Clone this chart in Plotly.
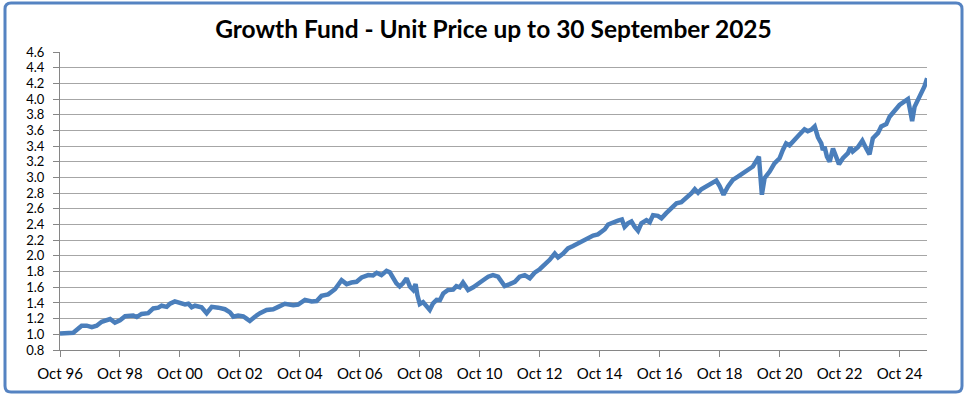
import plotly.graph_objects as go
import pandas as pd

# Decimal-year positions and unit prices
year_frac = [
    1996.75, 1997.19, 1997.47, 1997.64, 1997.81, 1997.97, 1998.14, 1998.42, 1998.58, 1998.75,
    1998.92, 1999.19, 1999.31, 1999.47, 1999.69, 1999.86, 2000.03, 2000.14, 2000.31, 2000.42,
    2000.58, 2000.75, 2000.92, 2001.03, 2001.14, 2001.25, 2001.47, 2001.64, 2001.81, 2002.03,
    2002.25, 2002.42, 2002.53, 2002.69, 2002.86, 2002.97, 2003.08, 2003.25, 2003.42, 2003.64,
    2003.86, 2004.03, 2004.25, 2004.53, 2004.69, 2004.92, 2005.14, 2005.31, 2005.47, 2005.69,
    2005.92, 2006.14, 2006.31, 2006.47, 2006.64, 2006.81, 2006.92, 2007.03, 2007.19, 2007.31,
    2007.47, 2007.64, 2007.75, 2007.86, 2007.97, 2008.08, 2008.19, 2008.31, 2008.42, 2008.53,
    2008.61, 2008.67, 2008.75, 2008.86, 2008.97, 2009.08, 2009.19, 2009.31, 2009.42, 2009.53,
    2009.69, 2009.86, 2009.97, 2010.08, 2010.19, 2010.36, 2010.53, 2010.69, 2010.86, 2011.03,
    2011.19, 2011.36, 2011.47, 2011.58, 2011.75, 2011.92, 2012.08, 2012.25, 2012.42, 2012.58,
    2012.75, 2012.92, 2013.08, 2013.25, 2013.36, 2013.53, 2013.69, 2013.86, 2014.03, 2014.19,
    2014.36, 2014.53, 2014.69, 2014.81, 2014.92, 2015.03, 2015.19, 2015.36, 2015.49, 2015.58,
    2015.69, 2015.81, 2015.92, 2016.03, 2016.14, 2016.31, 2016.42, 2016.53, 2016.69, 2016.81,
    2016.97, 2017.14, 2017.31, 2017.47, 2017.64, 2017.81, 2017.92, 2018.03, 2018.14, 2018.31,
    2018.47, 2018.64, 2018.75, 2018.88, 2019.03, 2019.19, 2019.36, 2019.53, 2019.69, 2019.86,
    2020.06, 2020.16, 2020.25, 2020.42, 2020.58, 2020.75, 2020.86, 2020.97, 2021.08, 2021.25,
    2021.42, 2021.58, 2021.69, 2021.81, 2021.92, 2022.03, 2022.14, 2022.19, 2022.25, 2022.33,
    2022.42, 2022.53, 2022.64, 2022.73, 2022.86, 2023.03, 2023.11, 2023.19, 2023.36, 2023.51,
    2023.64, 2023.75, 2023.86, 2024.03, 2024.14, 2024.31, 2024.42, 2024.58, 2024.75, 2024.92,
    2025.03, 2025.08, 2025.17, 2025.25, 2025.36, 2025.47, 2025.58, 2025.67,
]
unit_price = [
    1.01, 1.02, 1.11, 1.11, 1.09, 1.11, 1.16, 1.195, 1.15, 1.18,
    1.23, 1.24, 1.22, 1.26, 1.27, 1.33, 1.34, 1.365, 1.35, 1.39,
    1.42, 1.395, 1.38, 1.39, 1.345, 1.365, 1.345, 1.27, 1.35, 1.34,
    1.32, 1.28, 1.225, 1.24, 1.23, 1.20, 1.17, 1.225, 1.27, 1.31,
    1.32, 1.35, 1.39, 1.37, 1.38, 1.44, 1.42, 1.425, 1.49, 1.51,
    1.575, 1.69, 1.64, 1.66, 1.67, 1.725, 1.74, 1.755, 1.75, 1.785,
    1.755, 1.81, 1.79, 1.715, 1.65, 1.61, 1.65, 1.715, 1.61, 1.565,
    1.64, 1.50, 1.385, 1.41, 1.36, 1.31, 1.395, 1.44, 1.435, 1.52,
    1.565, 1.57, 1.615, 1.60, 1.66, 1.565, 1.60, 1.65, 1.69, 1.735,
    1.755, 1.735, 1.68, 1.615, 1.64, 1.67, 1.735, 1.755, 1.715, 1.785,
    1.83, 1.885, 1.95, 2.03, 1.98, 2.03, 2.095, 2.125, 2.16, 2.195,
    2.225, 2.26, 2.275, 2.31, 2.34, 2.40, 2.43, 2.45, 2.465, 2.37,
    2.415, 2.44, 2.37, 2.32, 2.415, 2.455, 2.43, 2.52, 2.51, 2.48,
    2.545, 2.61, 2.67, 2.685, 2.735, 2.80, 2.85, 2.805, 2.85, 2.89,
    2.925, 2.96, 2.89, 2.78, 2.885, 2.97, 3.01, 3.055, 3.095, 3.14,
    3.265, 2.78, 2.99, 3.075, 3.18, 3.245, 3.35, 3.435, 3.41, 3.49,
    3.55, 3.615, 3.59, 3.61, 3.65, 3.51, 3.435, 3.35, 3.39, 3.265,
    3.20, 3.37, 3.245, 3.17, 3.245, 3.31, 3.385, 3.33, 3.385, 3.47,
    3.37, 3.295, 3.50, 3.565, 3.65, 3.68, 3.775, 3.84, 3.925, 3.97,
    4.00, 3.90, 3.72, 3.90, 3.99, 4.05, 4.16, 4.265,
]

title_text = "Growth Fund - Unit Price up to 30 September 2025"
x_start = "1996-10-01"
x_end = "2025-09-01"


def to_date(y):
    yr = int(y)
    start = pd.Timestamp(year=yr, month=1, day=1)
    return start + pd.Timedelta(days=(y - yr) * 365.25)


dates = [to_date(y) for y in year_frac]

line_color = "#4a7ebb"
grid_color = "#a6a6a6"
axis_color = "#868686"
font_family = "Lato, 'Open Sans', sans-serif"

fig = go.Figure()
fig.add_trace(go.Scatter(
    x=dates, y=unit_price, mode="lines",
    line=dict(color=line_color, width=4.5),
    hoverinfo="skip", showlegend=False,
))

W, H = 967, 397
ml, mr, mt, mb = 60, 40, 52, 47
pw, ph = W - ml - mr, H - mt - mb


def px_to_paper_x(px):
    return (px - ml) / pw


def px_to_paper_y(py):
    return (H - mb - py) / ph


# rounded outer border (in pixel terms converted to paper coords)
bx0, bx1, by0, by1, r = 5, 962, 3, 392, 6
X0, X1 = px_to_paper_x(bx0), px_to_paper_x(bx1)
Yt, Yb = px_to_paper_y(by0), px_to_paper_y(by1)
rx, ry = r / pw, r / ph
path = (
    f"M {X0 + rx},{Yt} L {X1 - rx},{Yt} Q {X1},{Yt} {X1},{Yt - ry} "
    f"L {X1},{Yb + ry} Q {X1},{Yb} {X1 - rx},{Yb} "
    f"L {X0 + rx},{Yb} Q {X0},{Yb} {X0},{Yb + ry} "
    f"L {X0},{Yt - ry} Q {X0},{Yt} {X0 + rx},{Yt} Z"
)

fig.update_layout(
    width=W, height=H,
    margin=dict(l=ml, r=mr, t=mt, b=mb, autoexpand=False),
    paper_bgcolor="white", plot_bgcolor="white",
    font=dict(family=font_family, size=15, color="black"),
    title=dict(
        text=f"<b>{title_text}</b>",
        x=0.5, xref="paper", xanchor="center",
        y=1 - 29 / H, yref="container", yanchor="middle",
        font=dict(family=font_family, size=24.5, color="black"),
    ),
    shapes=[dict(
        type="path", path=path, xref="paper", yref="paper",
        line=dict(color="#5583c2", width=3), layer="above",
    )],
    xaxis=dict(
        type="date", range=[x_start, x_end],
        tick0=x_start, dtick="M24", tickformat="%b %y",
        showgrid=False, showline=True, linecolor=axis_color, linewidth=1,
        ticks="outside", ticklen=6, tickcolor=axis_color,
        tickfont=dict(size=15), ticklabelstandoff=4,
        zeroline=False,
    ),
    yaxis=dict(
        range=[0.8, 4.6], dtick=0.2, tick0=0.8, tickformat=".1f",
        showgrid=True, gridcolor=grid_color, gridwidth=1,
        showline=True, linecolor=axis_color, linewidth=1,
        ticks="outside", ticklen=6, tickcolor=axis_color,
        tickfont=dict(size=13), ticklabelstandoff=6,
        zeroline=False,
    ),
)

fig.write_html(
    "out.html",
    config={"displayModeBar": False},
    post_script="document.body.style.margin='0';document.body.style.overflow='hidden';",
)
